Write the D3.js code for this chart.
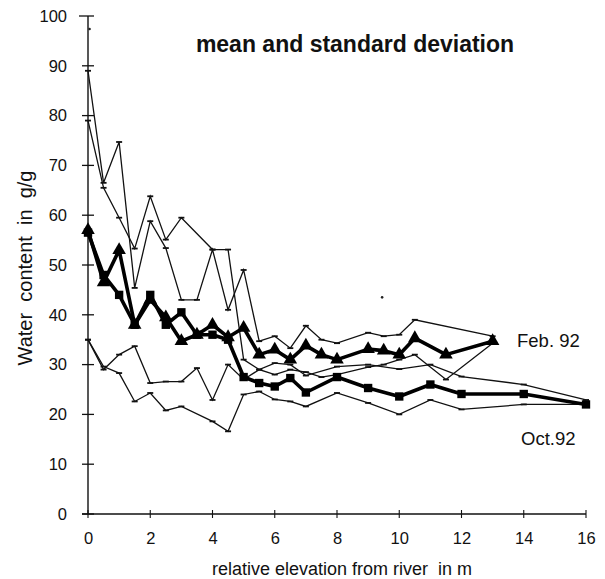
<!DOCTYPE html>
<html><head><meta charset="utf-8">
<script src="https://cdn.jsdelivr.net/npm/d3@7"></script>
<style>body{margin:0;background:#fff}svg{display:block}text{font-family:"Liberation Sans",Arial,sans-serif;fill:#111}</style>
</head><body><svg id="c" width="605" height="579"></svg>
<script>
const xTicks = [0,2,4,6,8,10,12,14,16];
const yTicks = [0,10,20,30,40,50,60,70,80,90,100];

const febX = [0,0.5,1,1.5,2,2.5,3,3.5,4,4.5,5,5.5,6,6.5,7,7.5,8,9,9.5,10,10.5,11.5,13];
const febMean = [57,46.5,53,38,43,39.5,34.7,36,38,35.5,37.4,32,33,31,33.8,32,31,33.1,32.8,32,35.3,32,34.7];
const febUpperX = [0,0.5,1,1.5,2,2.5,3,3.5,4,4.5,5,5.5,6,6.5,7,7.5,8,9,9.5,10,10.5,13];
const febUpper = [89,66.5,74.7,45.4,58.8,53.4,43,43,53.1,41,49,34.7,35.7,33.3,37.8,35,34.3,36.4,35.7,36,39,35.7];
const febLower = [35,29,32,33.7,26.3,26.6,26.6,29.3,22.9,30,27,29,28,29,28.5,27.5,28,29.5,30,31,32,27,34.3];

const octX = [0,0.5,1,1.5,2,2.5,3,3.5,4,4.5,5,5.5,6,6.5,7,8,9,10,11,12,14,16];
const octMean = [56.5,48,44,38,44,38,40.5,36,36,35,27.5,26.3,25.6,27.3,24.4,27.5,25.3,23.6,26,24.1,24.1,22];
const octEnvX = [0,0.5,1,1.5,2,2.5,3,4,4.5,5,5.5,6,6.5,7,8,9,10,11,12,14,16];
const octUpper = [79,65.5,59.5,53.3,63.8,55.1,59.5,53.1,53.1,31,29,30.3,30,27.8,29.6,30,29.1,30,27.6,26,22.9];
const octLower = [35,29.6,28.3,22.6,24.3,20.8,21.6,18.6,16.6,24,24.6,23,22.6,21.6,24.3,22.3,20,22.9,21,22,22];

const dotX = [0.05, 9.45];
const dotY = [97.4, 43.5];

const svg = d3.select("#c");
const x = d3.scaleLinear().domain([0,16]).range([88,586]);
const y = d3.scaleLinear().domain([0,100]).range([514,16]);

// axes
const yAxis = svg.append("g").attr("transform","translate(88,0)")
  .call(d3.axisLeft(y).tickValues(yTicks).tickSize(0).tickPadding(21).tickFormat(d3.format("d")));
yAxis.select(".domain").remove();
yAxis.selectAll("text").style("font-size","16.5px").attr("fill","#111");
svg.append("line").attr("x1",88).attr("x2",88).attr("y1",y(0)).attr("y2",y(100)).attr("stroke","#111").attr("stroke-width",1.4);
svg.selectAll(".yt").data(yTicks).enter().append("line")
  .attr("x1",d=>d===100?79:82).attr("x2",94).attr("y1",d=>y(d)).attr("y2",d=>y(d)).attr("stroke","#111").attr("stroke-width",1.3);

const xAxis = svg.append("g").attr("transform",`translate(0,${y(0)})`)
  .call(d3.axisBottom(x).tickValues(xTicks).tickSize(0).tickPadding(18).tickFormat(d3.format("d")));
xAxis.select(".domain").remove();
xAxis.selectAll("text").style("font-size","16.5px").attr("fill","#111");
svg.append("line").attr("x1",x(0)-6).attr("x2",x(16)).attr("y1",y(0)).attr("y2",y(0)).attr("stroke","#111").attr("stroke-width",1.4);
svg.selectAll(".xt").data(xTicks).enter().append("line")
  .attr("x1",d=>x(d)).attr("x2",d=>x(d)).attr("y1",y(0)-4).attr("y2",y(0)+4).attr("stroke","#111").attr("stroke-width",1.1);

// thin envelope lines
function thin(xs, ys){
  const pts = xs.map((v,i)=>[v,ys[i]]);
  svg.append("path").datum(pts)
    .attr("d", d3.line().x(d=>x(d[0])).y(d=>y(d[1])))
    .attr("fill","none").attr("stroke","#111").attr("stroke-width",1.3);
  svg.append("g").selectAll("line").data(pts).enter().append("line")
    .attr("x1",d=>x(d[0])-3).attr("x2",d=>x(d[0])+3)
    .attr("y1",d=>y(d[1])).attr("y2",d=>y(d[1]))
    .attr("stroke","#111").attr("stroke-width",1.8);
}
thin(febUpperX, febUpper);
thin(febX, febLower);
thin(octEnvX, octUpper);
thin(octEnvX, octLower);

// mean lines
function thick(xs, ys, sym){
  const pts = xs.map((v,i)=>[v,ys[i]]);
  svg.append("path").datum(pts)
    .attr("d", d3.line().x(d=>x(d[0])).y(d=>y(d[1])))
    .attr("fill","none").attr("stroke","#000").attr("stroke-width",3.6).attr("stroke-linejoin","round");
  svg.append("g").selectAll("path").data(pts).enter().append("path")
    .attr("transform",d=>`translate(${x(d[0])},${y(d[1])})`)
    .attr("d", d3.symbol().type(sym).size(sym===d3.symbolSquare?70:80))
    .attr("fill","#000");
}
thick(octX, octMean, d3.symbolSquare);
thick(febX, febMean, d3.symbolTriangle);

svg.append("g").selectAll("circle").data(dotX.map((v,i)=>[v,dotY[i]])).enter().append("circle")
  .attr("cx",d=>x(d[0])).attr("cy",d=>y(d[1])).attr("r",1.3).attr("fill","#222");

// texts
svg.append("text").attr("x",355).attr("y",52).attr("text-anchor","middle")
  .style("font-size","23px").style("font-weight","bold").text("mean and standard deviation");
svg.append("text").attr("x",517).attr("y",347).style("font-size","18.5px").text("Feb. 92");
svg.append("text").attr("x",521).attr("y",445).style("font-size","18.5px").text("Oct.92");
svg.append("text").attr("x",342).attr("y",575).attr("text-anchor","middle").attr("xml:space","preserve")
  .style("font-size","18px").style("white-space","pre").text("relative elevation from river  in m");
svg.append("text").attr("transform","translate(32,268) rotate(-90)").attr("text-anchor","middle")
  .style("font-size","20px").style("white-space","pre").text("Water  content  in  g/g");
</script></body></html>
